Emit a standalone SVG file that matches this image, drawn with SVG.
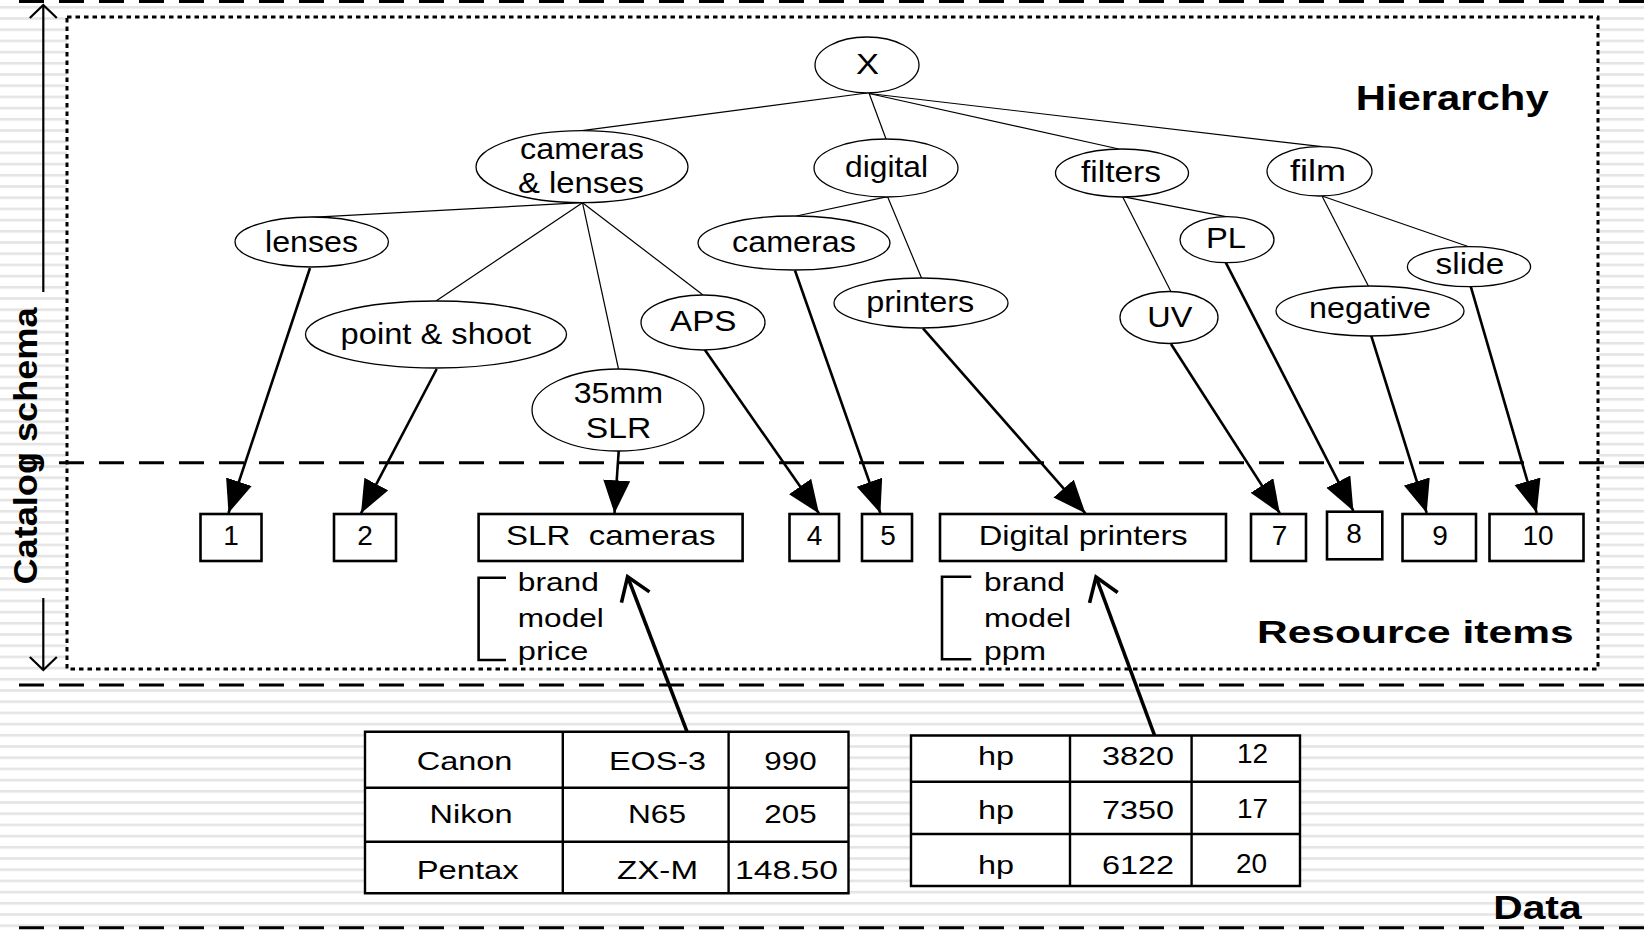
<svg xmlns="http://www.w3.org/2000/svg" width="1644" height="933" viewBox="0 0 1644 933">
  <style>
    text { font-family: "Liberation Sans", Arial, Helvetica, sans-serif; fill: #000; }
    .n { font-size: 29px; }
    .d { font-size: 28px; }
    .s { font-size: 25px; }
    .t { font-size: 25px; }
    .h { font-weight: bold; }
    .ell { fill: #fff; stroke: #000; stroke-width: 1.3; }
    .box { fill: #fff; stroke: #000; stroke-width: 2.6; }
    .edge { stroke: #000; stroke-width: 1.2; fill: none; }
    .arr { stroke: #000; stroke-width: 2.6; fill: none; marker-end: url(#tri); }
    .up { stroke: #000; stroke-width: 3.6; fill: none; marker-end: url(#vee); }
    .dash { stroke: #000; stroke-width: 3; stroke-dasharray: 25 15; fill: none; }
    .grid { stroke: #000; stroke-width: 2.4; fill: none; }
  </style>
  <defs>
    <pattern id="stripes" patternUnits="userSpaceOnUse" x="0" y="6" width="40" height="11.2">
      <rect x="0" y="0" width="40" height="2.6" fill="#e4e4e4"/>
    </pattern>
    <marker id="tri" markerUnits="userSpaceOnUse" markerWidth="34" markerHeight="28" viewBox="0 0 34 28" refX="33" refY="13.5" orient="auto">
      <path d="M0,0 L33,13.5 L0,27 z" fill="#000"/>
    </marker>
    <marker id="vee" markerUnits="userSpaceOnUse" markerWidth="34" markerHeight="36" viewBox="0 0 34 36" refX="27" refY="18" orient="auto" overflow="visible">
      <path d="M5,3 L27,18 L5,33" fill="none" stroke="#000" stroke-width="3.6"/>
    </marker>
  </defs>

  <!-- slide background -->
  <rect x="0" y="0" width="1644" height="933" fill="#fff"/>
  <rect x="0" y="0" width="1644" height="933" fill="url(#stripes)"/>

  <!-- catalog schema frame -->
  <rect x="67" y="17" width="1531" height="652" fill="#fff" stroke="#000" stroke-width="3" stroke-dasharray="4.5 4"/>

  <!-- layer separators -->
  <g id="separators">
    <line class="dash" x1="19" y1="1.5" x2="1644" y2="1.5"/>
    <line class="dash" x1="19" y1="462.7" x2="1644" y2="462.7"/>
    <line class="dash" x1="19" y1="685" x2="1644" y2="685"/>
    <line class="dash" x1="19" y1="927.7" x2="1644" y2="927.7"/>
  </g>

  <!-- side axis -->
  <g id="axis" stroke="#000" stroke-width="2.2" fill="none">
    <line x1="43.3" y1="5" x2="43.3" y2="292"/>
    <line x1="43.3" y1="598" x2="43.3" y2="670"/>
    <path d="M29.8,18 L43.3,5 L56.8,18"/>
    <path d="M29.8,657 L43.3,670 L56.8,657"/>
  </g>
  <text class="h" font-size="34" transform="translate(36.7,446) rotate(-90)" x="-138.5" y="0" textLength="277" lengthAdjust="spacingAndGlyphs">Catalog schema</text>

  <!-- section titles -->
  <text class="h" font-size="35" x="1355.7" y="110" textLength="193" lengthAdjust="spacingAndGlyphs">Hierarchy</text>
  <text class="h" font-size="32" x="1257" y="643.3" textLength="316.6" lengthAdjust="spacingAndGlyphs">Resource items</text>
  <text class="h" font-size="34" x="1493.3" y="919.3" textLength="88.3" lengthAdjust="spacingAndGlyphs">Data</text>

  <!-- connectors -->
  <g id="connectors">
    <!-- hierarchy edges -->
    <line class="edge" x1="867" y1="93" x2="582" y2="130.7"/>
    <line class="edge" x1="869" y1="93" x2="886" y2="139"/>
    <line class="edge" x1="869" y1="93.5" x2="1119" y2="149"/>
    <line class="edge" x1="869" y1="93.5" x2="1322" y2="146.7"/>
    <line class="edge" x1="582.5" y1="202.7" x2="311" y2="217.3"/>
    <line class="edge" x1="582.5" y1="202.7" x2="436" y2="301"/>
    <line class="edge" x1="582.5" y1="202.7" x2="618.5" y2="369"/>
    <line class="edge" x1="582.5" y1="202.7" x2="703" y2="295"/>
    <line class="edge" x1="887.6" y1="196.7" x2="796.4" y2="216"/>
    <line class="edge" x1="887.6" y1="196.7" x2="921.6" y2="278.3"/>
    <line class="edge" x1="1122.6" y1="196.7" x2="1225.8" y2="216.7"/>
    <line class="edge" x1="1122.6" y1="196.7" x2="1171" y2="291.7"/>
    <line class="edge" x1="1322" y1="196" x2="1468.8" y2="246.7"/>
    <line class="edge" x1="1322" y1="196" x2="1369" y2="287.3"/>
    <!-- category to resource item -->
    <line class="arr" x1="310" y1="268" x2="228.5" y2="513"/>
    <line class="arr" x1="436.7" y1="369" x2="361" y2="513.3"/>
    <line class="arr" x1="618.7" y1="451" x2="614.5" y2="513.3"/>
    <line class="arr" x1="704.6" y1="349.5" x2="819" y2="513.5"/>
    <line class="arr" x1="795" y1="270.5" x2="880.4" y2="513.3"/>
    <line class="arr" x1="923" y1="328.3" x2="1085.4" y2="513.3"/>
    <line class="arr" x1="1171" y1="344" x2="1279.8" y2="513.3"/>
    <line class="arr" x1="1225.8" y1="262.7" x2="1353.4" y2="511"/>
    <line class="arr" x1="1371" y1="335" x2="1426.7" y2="513"/>
    <line class="arr" x1="1470.8" y1="286.7" x2="1536.7" y2="513"/>
    <!-- data rows to resource item -->
    <line class="up" x1="687" y1="731.7" x2="627.6" y2="576.7"/>
    <line class="up" x1="1154.6" y1="735.5" x2="1096" y2="577"/>
  </g>

  <!-- hierarchy nodes -->
  <g id="node-x"><ellipse class="ell" cx="867" cy="65" rx="52" ry="28"/><text class="n" x="856" y="74" textLength="23" lengthAdjust="spacingAndGlyphs">X</text></g>
  <g id="node-cameras-lenses"><ellipse class="ell" cx="582" cy="166.7" rx="106" ry="36"/><text class="n" x="520" y="158.5" textLength="124" lengthAdjust="spacingAndGlyphs">cameras</text><text class="n" x="518" y="193" textLength="126" lengthAdjust="spacingAndGlyphs">&amp; lenses</text></g>
  <g id="node-digital"><ellipse class="ell" cx="886" cy="168" rx="72" ry="29"/><text class="n" x="845" y="176.7" textLength="83" lengthAdjust="spacingAndGlyphs">digital</text></g>
  <g id="node-filters"><ellipse class="ell" cx="1122" cy="173" rx="66.5" ry="24"/><text class="n" x="1081" y="181.7" textLength="80" lengthAdjust="spacingAndGlyphs">filters</text></g>
  <g id="node-film"><ellipse class="ell" cx="1319.5" cy="171.3" rx="52.5" ry="24.7"/><text class="n" x="1290" y="180.7" textLength="56" lengthAdjust="spacingAndGlyphs">film</text></g>
  <g id="node-lenses"><ellipse class="ell" cx="311.7" cy="242" rx="76.7" ry="25"/><text class="n" x="265" y="251.7" textLength="93" lengthAdjust="spacingAndGlyphs">lenses</text></g>
  <g id="node-cameras"><ellipse class="ell" cx="794" cy="243" rx="96" ry="27"/><text class="n" x="732" y="252.3" textLength="124" lengthAdjust="spacingAndGlyphs">cameras</text></g>
  <g id="node-pl"><ellipse class="ell" cx="1227" cy="239.7" rx="47" ry="23"/><text class="n" x="1206" y="248.3" textLength="40" lengthAdjust="spacingAndGlyphs">PL</text></g>
  <g id="node-slide"><ellipse class="ell" cx="1469" cy="266.7" rx="61.6" ry="20"/><text class="n" x="1435.6" y="274" textLength="68.6" lengthAdjust="spacingAndGlyphs">slide</text></g>
  <g id="node-point-shoot"><ellipse class="ell" cx="436" cy="334.5" rx="130.5" ry="33.5"/><text class="n" x="340.6" y="344" textLength="190.6" lengthAdjust="spacingAndGlyphs">point &amp; shoot</text></g>
  <g id="node-aps"><ellipse class="ell" cx="703" cy="322.5" rx="62" ry="27.5"/><text class="n" x="670" y="330.7" textLength="66.5" lengthAdjust="spacingAndGlyphs">APS</text></g>
  <g id="node-printers"><ellipse class="ell" cx="921" cy="303" rx="87" ry="25"/><text class="n" x="866.3" y="311.7" textLength="108" lengthAdjust="spacingAndGlyphs">printers</text></g>
  <g id="node-uv"><ellipse class="ell" cx="1169" cy="317.5" rx="49" ry="26"/><text class="n" x="1147.3" y="326.7" textLength="45" lengthAdjust="spacingAndGlyphs">UV</text></g>
  <g id="node-negative"><ellipse class="ell" cx="1370" cy="311" rx="94" ry="25"/><text class="n" x="1309" y="318.3" textLength="122" lengthAdjust="spacingAndGlyphs">negative</text></g>
  <g id="node-35mm-slr"><ellipse class="ell" cx="618" cy="410" rx="86" ry="41"/><text class="n" x="573.7" y="403.3" textLength="89.4" lengthAdjust="spacingAndGlyphs">35mm</text><text class="n" x="585.8" y="438.3" textLength="65.4" lengthAdjust="spacingAndGlyphs">SLR</text></g>

  <!-- resource items -->
  <g id="item-1"><rect class="box" x="200.5" y="514" width="61" height="47"/><text class="d" x="231" y="545" text-anchor="middle">1</text></g>
  <g id="item-2"><rect class="box" x="334" y="514" width="62" height="47"/><text class="d" x="365" y="545" text-anchor="middle">2</text></g>
  <g id="item-slr-cameras">
    <rect class="box" x="478.6" y="514" width="264" height="47"/>
    <text class="d" x="506" y="545" textLength="209.5" lengthAdjust="spacingAndGlyphs" xml:space="preserve">SLR  cameras</text>
    <path d="M506,577.7 H478.6 V660 H506" fill="none" stroke="#000" stroke-width="2.6"/>
    <text class="s" x="517.8" y="590.7" textLength="81" lengthAdjust="spacingAndGlyphs">brand</text>
    <text class="s" x="517.8" y="626.7" textLength="86" lengthAdjust="spacingAndGlyphs">model</text>
    <text class="s" x="517.8" y="660" textLength="70.6" lengthAdjust="spacingAndGlyphs">price</text>
  </g>
  <g id="item-4"><rect class="box" x="789.5" y="514" width="49.5" height="47"/><text class="d" x="814.5" y="545" text-anchor="middle">4</text></g>
  <g id="item-5"><rect class="box" x="862" y="514" width="50" height="47"/><text class="d" x="888" y="545" text-anchor="middle">5</text></g>
  <g id="item-digital-printers">
    <rect class="box" x="940" y="514" width="286" height="47"/>
    <text class="d" x="978.7" y="545" textLength="209" lengthAdjust="spacingAndGlyphs">Digital printers</text>
    <path d="M971.3,576.7 H942 V659.3 H971.3" fill="none" stroke="#000" stroke-width="2.6"/>
    <text class="s" x="984" y="590.7" textLength="81" lengthAdjust="spacingAndGlyphs">brand</text>
    <text class="s" x="984" y="626.7" textLength="87" lengthAdjust="spacingAndGlyphs">model</text>
    <text class="s" x="984" y="660" textLength="62" lengthAdjust="spacingAndGlyphs">ppm</text>
  </g>
  <g id="item-7"><rect class="box" x="1251" y="514" width="55" height="47"/><text class="d" x="1279.5" y="545" text-anchor="middle">7</text></g>
  <g id="item-8"><rect class="box" x="1327" y="511.7" width="55.3" height="47.6"/><text class="d" x="1354" y="542.7" text-anchor="middle">8</text></g>
  <g id="item-9"><rect class="box" x="1402.5" y="514" width="73.5" height="47"/><text class="d" x="1440" y="545" text-anchor="middle">9</text></g>
  <g id="item-10"><rect class="box" x="1489.5" y="514" width="94" height="47"/><text class="d" x="1538" y="545" text-anchor="middle">10</text></g>

  <!-- data tables -->
  <g id="table-cameras">
    <rect x="365" y="731.7" width="483.5" height="161.6" fill="#fff"/>
    <path class="grid" d="M365,731.7 H848.5 V893.3 H365 Z M562.8,731.7 V893.3 M728.6,731.7 V893.3 M365,787.7 H848.5 M365,841.7 H848.5"/>
    <text class="t" x="416.7" y="770" textLength="95.7" lengthAdjust="spacingAndGlyphs">Canon</text>
    <text class="t" x="609" y="770" textLength="97" lengthAdjust="spacingAndGlyphs">EOS-3</text>
    <text class="t" x="764.3" y="770" textLength="52.3" lengthAdjust="spacingAndGlyphs">990</text>
    <text class="t" x="429.5" y="823.3" textLength="83" lengthAdjust="spacingAndGlyphs">Nikon</text>
    <text class="t" x="628" y="823.3" textLength="58" lengthAdjust="spacingAndGlyphs">N65</text>
    <text class="t" x="764.3" y="823.3" textLength="52.3" lengthAdjust="spacingAndGlyphs">205</text>
    <text class="t" x="416.7" y="879" textLength="102" lengthAdjust="spacingAndGlyphs">Pentax</text>
    <text class="t" x="617" y="879" textLength="81" lengthAdjust="spacingAndGlyphs">ZX-M</text>
    <text class="t" x="735" y="879" textLength="103" lengthAdjust="spacingAndGlyphs">148.50</text>
  </g>
  <g id="table-printers">
    <rect x="911" y="735.5" width="389" height="150.5" fill="#fff"/>
    <path class="grid" d="M911,735.5 H1300 V886 H911 Z M1070,735.5 V886 M1191.6,735.5 V886 M911,781.7 H1300 M911,834 H1300"/>
    <text class="t" x="978" y="765" textLength="36" lengthAdjust="spacingAndGlyphs">hp</text>
    <text class="t" x="1102" y="765" textLength="72" lengthAdjust="spacingAndGlyphs">3820</text>
    <text class="d" x="1237" y="763">12</text>
    <text class="t" x="978" y="819" textLength="36" lengthAdjust="spacingAndGlyphs">hp</text>
    <text class="t" x="1102" y="819" textLength="72" lengthAdjust="spacingAndGlyphs">7350</text>
    <text class="d" x="1237" y="818.3">17</text>
    <text class="t" x="978" y="873.5" textLength="36" lengthAdjust="spacingAndGlyphs">hp</text>
    <text class="t" x="1102" y="873.5" textLength="72" lengthAdjust="spacingAndGlyphs">6122</text>
    <text class="d" x="1236" y="873.3">20</text>
  </g>
</svg>
